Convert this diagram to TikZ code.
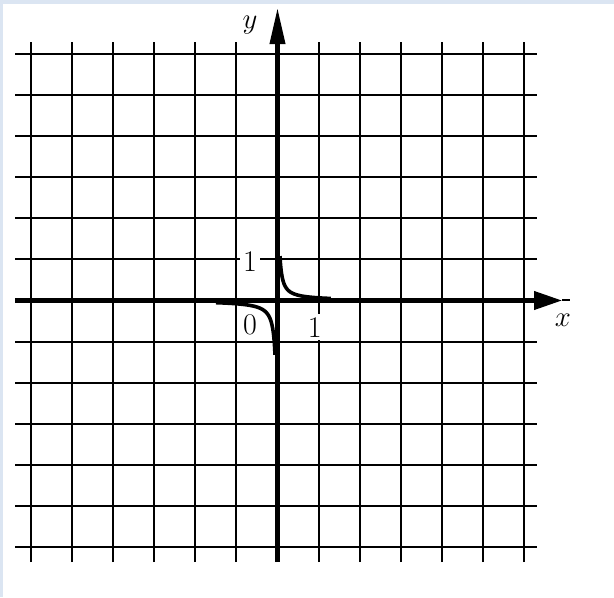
\documentclass[tikz,border=0pt]{standalone}
\usepackage{tikz}
\usetikzlibrary{arrows.meta}
\definecolor{bandblue}{rgb}{0.86, 0.90, 0.95}

\begin{document}
\begin{tikzpicture}[x=0.72cm, y=0.72cm,
    grille/.style={line width=1pt},
    axe/.style={line width=2pt},
    courbe/.style={line width=1.8pt},
    etiquette/.style={fill=white, inner sep=1.5pt, font=\fontsize{15}{17}\selectfont}]
    % Fond
    \fill[bandblue] (-6.768,-7.232) rectangle (8.207,7.329);
    \fill[white] (-6.695,-7.232) rectangle (8.207,7.231);
    \useasboundingbox (-6.768,-7.232) rectangle (8.207,7.329);

    % Quadrillage
    \foreach \i in {-6,...,6} {
        \draw[grille] (\i,-6.38) -- (\i,6.30);
        \draw[grille] (-6.40,\i) -- (6.33,\i);
    }

    % Etiquettes
    \node[etiquette] (un-y) at (-0.67,0.94) {1};
    \node[etiquette] (zero) at (-0.67,-0.6) {0};
    \node[etiquette] (un-x) at (0.91,-0.65) {1};
    \node[etiquette, fill=none] (nom-y) at (-0.67,6.72) {$y$};
    \node[etiquette, fill=none] (nom-x) at (6.96,-0.48) {$x$};

    % Axes
    \coordinate (x-debut) at (-6.40,0);
    \coordinate (x-pointe) at (6.94,0);
    \coordinate (x-fin) at (7.13,0);
    \coordinate (y-bas) at (0,-6.38);
    \coordinate (y-pointe) at (0,7.13);
    \draw[axe, -{Triangle[length=14pt, width=9pt]}] (x-debut) -- (x-pointe);
    \draw[grille] (x-pointe) -- (x-fin);
    \draw[axe, -{Triangle[length=18pt, width=7.5pt]}] (y-bas) -- (y-pointe);

    % Courbe
    \draw[courbe, domain=0.06:1.3, samples=100, smooth] plot (\x, {0.065/\x});
    \draw[courbe, domain=-1.5:-0.06, samples=100, smooth] plot (\x, {0.08/\x});
\end{tikzpicture}
\end{document}
